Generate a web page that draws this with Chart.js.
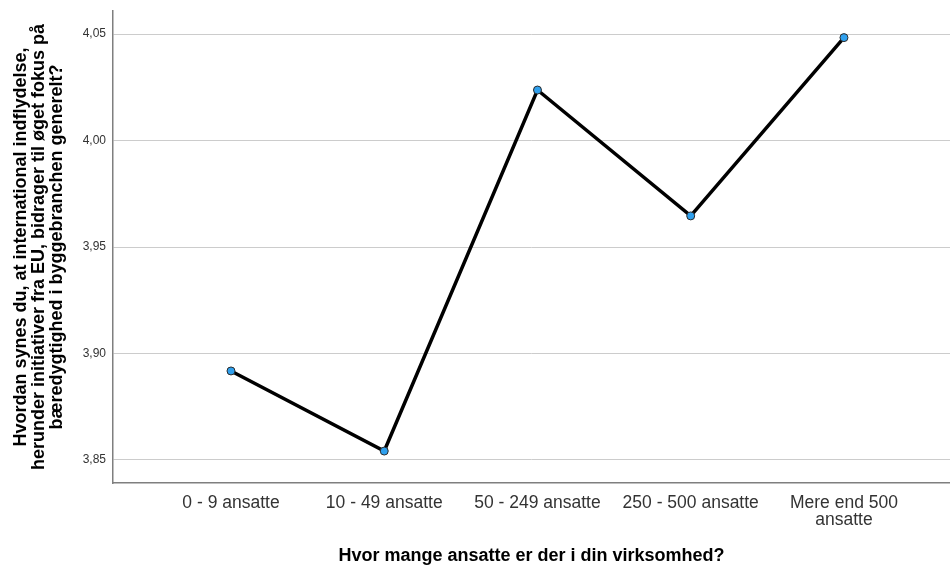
<!DOCTYPE html>
<html>
<head>
<meta charset="utf-8">
<script src="https://cdn.jsdelivr.net/npm/chart.js@4"></script>
<style>
  html, body { margin: 0; padding: 0; background: #ffffff; overflow: hidden; }
  #wrap { width: 950px; height: 567px; position: relative; }
</style>
</head>
<body>
<div id="wrap"><canvas id="c" width="950" height="567"></canvas></div>
<script>
// ---- data ----
const categories = ['0 - 9 ansatte', '10 - 49 ansatte', '50 - 249 ansatte', '250 - 500 ansatte', 'Mere end 500\nansatte'];
const meanValues = [3.8918, 3.8542, 4.0237, 3.9646, 4.0483];
const yTickValues = [3.85, 3.90, 3.95, 4.00, 4.05];
const xTitle = 'Hvor mange ansatte er der i din virksomhed?';
const yTitleLines = [
  'Hvordan synes du, at international indflydelse,',
  'herunder initiativer fra EU, bidrager til øget fokus på',
  'bæredygtighed i byggebranchen generelt?'
];

const FONT = '"Liberation Sans", Arial, Helvetica, sans-serif';

const points = meanValues.map((v, i) => ({ x: i, y: v }));

new Chart(document.getElementById('c'), {
  type: 'line',
  data: {
    datasets: [{
      data: points,
      borderColor: '#000000',
      borderWidth: 3.5,
      tension: 0,
      fill: false,
      clip: false,
      pointRadius: 4,
      pointHoverRadius: 4,
      pointBackgroundColor: '#2fa0ee',
      pointBorderColor: '#2b2b2b',
      pointBorderWidth: 1
    }]
  },
  options: {
    responsive: false,
    animation: false,
    devicePixelRatio: 1,
    layout: { autoPadding: false, padding: { top: 11, right: 0, bottom: 0, left: 0 } },
    plugins: { legend: { display: false }, tooltip: { enabled: false }, title: { display: false } },
    scales: {
      x: {
        type: 'linear',
        min: -0.770,
        max: 4.692,
        afterBuildTicks: (scale) => { scale.ticks = categories.map((c, i) => ({ value: i })); },
        afterFit: (scale) => { scale.height = 84; scale.paddingLeft = 0; scale.paddingRight = 0; },
        ticks: {
          autoSkip: false,
          maxRotation: 0,
          minRotation: 0,
          padding: 11,
          color: '#333333',
          font: { family: FONT, size: 17.5, lineHeight: 1.0 },
          callback: (v) => {
            const i = Math.round(v);
            return (i >= 0 && i < categories.length) ? categories[i].split('\n') : '';
          }
        },
        grid: { display: false, drawTicks: false },
        border: { display: true, color: '#7f7f7f', width: 1.5 },
        title: {
          display: true,
          text: xTitle,
          color: '#000000',
          font: { family: FONT, size: 18, weight: 'bold', lineHeight: 1.2 },
          padding: { top: 0, bottom: 0 }
        }
      },
      y: {
        type: 'linear',
        min: 3.8392,
        max: 4.0608,
        afterBuildTicks: (scale) => { scale.ticks = yTickValues.map(v => ({ value: v })); },
        afterFit: (scale) => { scale.width = 113; scale.paddingTop = 0; scale.paddingBottom = 0; },
        ticks: {
          padding: 7,
          color: '#333333',
          font: { family: FONT, size: 12 },
          callback: (v) => Number(v).toFixed(2).replace('.', ',')
        },
        grid: { display: true, color: '#cccccc', lineWidth: 1, drawTicks: false },
        border: { display: true, color: '#7f7f7f', width: 1.5 },
        title: {
          display: true,
          text: yTitleLines,
          color: '#000000',
          font: { family: FONT, size: 18, weight: 'bold', lineHeight: 1.0 },
          padding: { top: 12, bottom: 0 }
        }
      }
    }
  }
});
</script>
</body>
</html>
